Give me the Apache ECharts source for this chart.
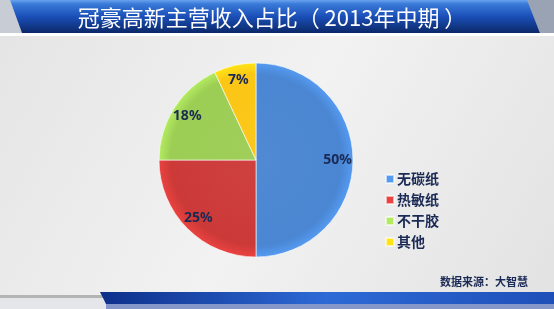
<!DOCTYPE html>
<html><head><meta charset="utf-8">
<script src="https://cdn.jsdelivr.net/npm/echarts@6/dist/echarts.min.js"></script>
<style>html,body{margin:0;padding:0;}#c{width:554px;height:309px;}</style>
</head><body><div id="c"></div>
<script>
const titleText = '冠豪高新主营收入占比（ 2013年中期 ）';
const categories = ['无碳纸', '热敏纸', '不干胶', '其他'];
const values = [50, 25, 18, 7];
const colors = ['#4a86d2', '#cc3a38', '#9ccd54', '#fbc614'];
const sourceText = '数据来源：大智慧';

const chart = echarts.init(document.getElementById('c'));
const CX = 256, CY = 160, R = 97;
const mainData = categories.map((n, i) => ({
  name: n, value: values[i],
  itemStyle: {
    color: new echarts.graphic.RadialGradient(CX, CY, R, [
      {offset: 0, color: echarts.color.lift(colors[i], 0.04)}, {offset: 0.88, color: colors[i]}, {offset: 1, color: echarts.color.lift(colors[i], -0.15)}
    ], true)
  }
}));
const ghostData = categories.map((n, i) => ({name: n, value: values[i]}));
const labelFont = {color: '#1b2a55', fontSize: 14, fontWeight: 'bold', fontFamily: 'Noto Sans, DejaVu Sans, sans-serif'};

chart.setOption({
  backgroundColor: new echarts.graphic.LinearGradient(0, 0, 1, 1, [
    {offset: 0, color: '#e4e4e4'}, {offset: 0.5, color: '#f2f2f2'}, {offset: 1, color: '#e2e2e2'}
  ]),
  animation: false,
  graphic: [
    {type: 'polygon', shape: {points: [[0, 0], [10, 0], [22, 33], [0, 33]]}, style: {fill: '#c8ccd4'}, z: 1},
    {type: 'polygon', shape: {points: [[526, 0], [554, 0], [554, 33], [540, 33]]}, style: {fill: '#9aa3b3'}, z: 1},
    {type: 'polygon', shape: {points: [[10, 0], [527, 0], [540, 33], [22, 33]]},
      style: {fill: new echarts.graphic.LinearGradient(0, 0, 0, 1, [
        {offset: 0, color: '#6aa2ee'}, {offset: 0.12, color: '#3a7ad8'}, {offset: 0.5, color: '#1b4fb8'}, {offset: 1, color: '#0b2868'}
      ])}, z: 2},
    {type: 'rect', shape: {x: 0, y: 33, width: 554, height: 3}, style: {fill: '#ffffff'}, z: 2},
    {type: 'rect', shape: {x: 0, y: 295, width: 110, height: 3}, style: {fill: '#b4b4b4'}, z: 1},
    {type: 'rect', shape: {x: 0, y: 298, width: 110, height: 11}, style: {fill: '#e4e6ea'}, z: 1},
    {type: 'polygon', shape: {points: [[100, 292], [554, 292], [554, 304], [106, 304]]},
      style: {fill: new echarts.graphic.LinearGradient(0, 0, 1, 0, [
        {offset: 0, color: '#0d2f8a'}, {offset: 0.5, color: '#2d6ad6'}, {offset: 1, color: '#1e4fb8'}
      ])}, z: 2},
    {type: 'rect', shape: {x: 106, y: 304, width: 448, height: 5}, style: {fill: '#8597c8'}, z: 2},
    {type: 'text', left: 440, top: 276, style: {text: sourceText, fill: '#1b2a55', font: 'bold 11px "Noto Sans CJK SC", sans-serif'}, z: 3}
  ],
  title: {
    text: titleText, left: 267, top: 2, textAlign: 'center',
    textStyle: {color: '#ffffff', fontSize: 22, fontWeight: 'normal', fontFamily: '"Noto Sans CJK SC", sans-serif'},
    z: 5
  },
  legend: {
    orient: 'vertical', left: 380, top: 167, itemWidth: 8, itemHeight: 8, itemGap: 7,
    data: categories, icon: 'rect',
    textStyle: {color: '#1b2a55', fontSize: 14, fontWeight: 'bold', fontFamily: '"Noto Sans CJK SC", sans-serif', padding: [0, 0, 0, -2]}
  },
  series: [
    {
      type: 'pie', center: [CX, CY], radius: [0, R], startAngle: 90, clockwise: true,
      data: mainData, label: {show: false}, labelLine: {show: false},
      itemStyle: {borderColor: 'rgba(255,255,255,0.6)', borderWidth: 1},
      emphasis: {disabled: true}
    },
    {
      type: 'pie', center: [CX, CY], radius: [60, R], startAngle: 90, clockwise: true,
      data: ghostData, silent: true,
      itemStyle: {color: 'rgba(0,0,0,0)'},
      label: Object.assign({show: true, position: 'inside', formatter: '{c}%'}, labelFont),
      labelLine: {show: false}, emphasis: {disabled: true}, z: 3
    }
  ]
});
</script></body></html>
